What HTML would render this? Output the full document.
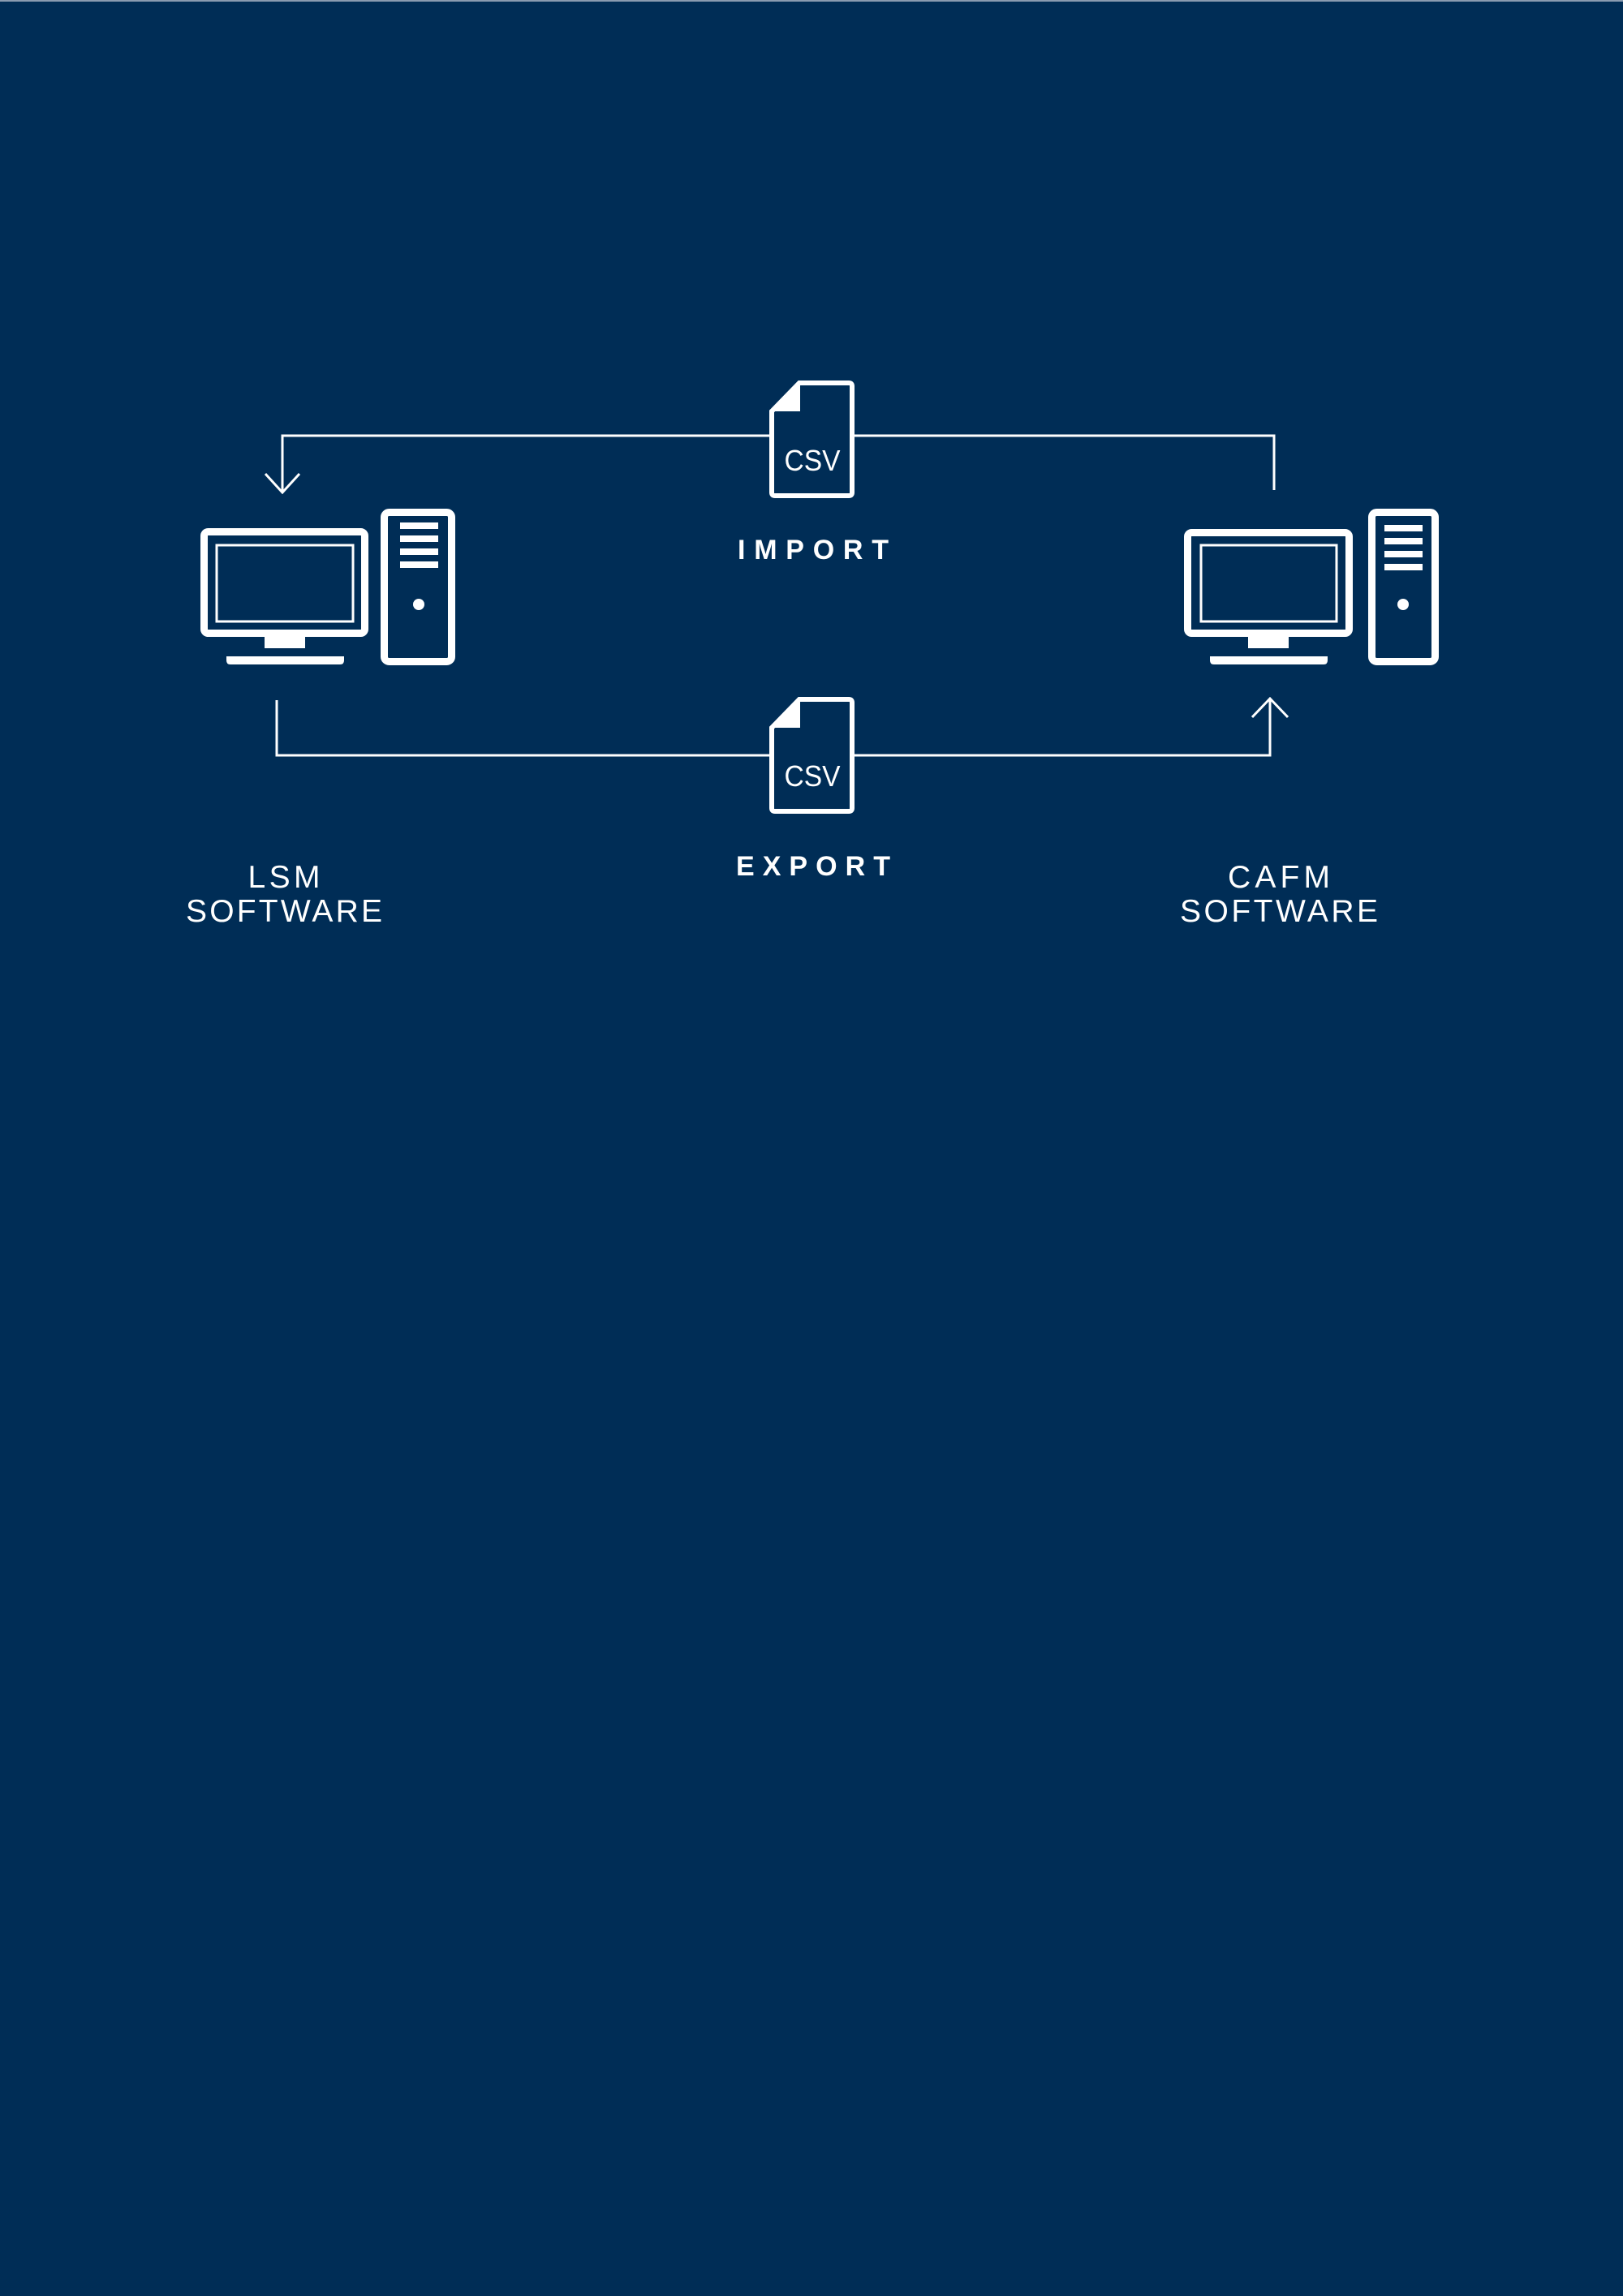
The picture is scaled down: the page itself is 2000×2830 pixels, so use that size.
<!DOCTYPE html>
<html><head><meta charset="utf-8"><style>html,body{margin:0;padding:0;background:#002d56}svg{display:block}</style></head>
<body>
<svg width="2000" height="2830" viewBox="0 0 2000 2830" xmlns="http://www.w3.org/2000/svg">
<rect width="2000" height="2830" fill="#002d56"/>
<rect width="2000" height="2" fill="#8a9bb0"/>
<g fill="none" stroke="#fff">
  <!-- connectors -->
  <polyline points="949,537 348,537 348,607" stroke-width="3"/>
  <polyline points="327,584 348,607 369,584" stroke-width="3"/>
  <polyline points="1052,537 1570,537 1570,604" stroke-width="3"/>
  <polyline points="341,863 341,931 949,931" stroke-width="3"/>
  <polyline points="1052,931 1565,931 1565,862" stroke-width="3"/>
  <polyline points="1543,884 1565,861 1587,884" stroke-width="3"/>
  <!-- left monitor -->
  <rect x="251.5" y="655.5" width="198" height="125" rx="5" stroke-width="9"/>
  <rect x="267" y="672" width="168" height="94" stroke-width="3"/>
  <rect x="473.5" y="631.5" width="83" height="184" rx="6" stroke-width="9"/>
  <!-- right monitor -->
  <rect x="1463.5" y="656.5" width="199" height="124" rx="5" stroke-width="9"/>
  <rect x="1480" y="672" width="167" height="94" stroke-width="3"/>
  <rect x="1690.5" y="631.5" width="78" height="184" rx="6" stroke-width="9"/>
  <!-- docs -->
  <path d="M951,507 L985,472 L1046,472 Q1050,472 1050,476 L1050,607 Q1050,611 1046,611 L955,611 Q951,611 951,607 Z" stroke-width="6"/>
  <path d="M951,897 L985,862 L1046,862 Q1050,862 1050,866 L1050,996 Q1050,1000 1046,1000 L955,1000 Q951,1000 951,996 Z" stroke-width="6"/>
</g>
<g fill="#fff">
  <rect x="326" y="785" width="50" height="14"/>
  <path d="M279,809 H424 V814 Q424,819 419,819 H284 Q279,819 279,814 Z"/>
  <rect x="493" y="644" width="47" height="8"/>
  <rect x="493" y="660" width="47" height="8"/>
  <rect x="493" y="676" width="47" height="8"/>
  <rect x="493" y="692" width="47" height="8"/>
  <circle cx="516" cy="745" r="7"/>
  <rect x="1538" y="785" width="50" height="14"/>
  <path d="M1491,809 H1636 V814 Q1636,819 1631,819 H1496 Q1491,819 1491,814 Z"/>
  <rect x="1706" y="647" width="47" height="8"/>
  <rect x="1706" y="663" width="47" height="8"/>
  <rect x="1706" y="679" width="47" height="8"/>
  <rect x="1706" y="695" width="47" height="8"/>
  <circle cx="1729" cy="745" r="7"/>
  <polygon points="949,507 986,470 986,507"/>
  <polygon points="949,897 986,860 986,897"/>
</g>
<g fill="#fff" font-family="Liberation Sans, sans-serif" text-anchor="middle">
  <text x="1001" y="580" font-size="36" textLength="69" lengthAdjust="spacingAndGlyphs">CSV</text>
  <text x="1001" y="969" font-size="36" textLength="69" lengthAdjust="spacingAndGlyphs">CSV</text>
  <text x="1002" y="689" font-size="34" font-weight="bold" textLength="186" lengthAdjust="spacing">IMPORT</text>
  <text x="1002" y="1079" font-size="34" font-weight="bold" textLength="190" lengthAdjust="spacing">EXPORT</text>
  <text x="350" y="1094" font-size="39" textLength="89" lengthAdjust="spacing">LSM</text>
  <text x="350" y="1136" font-size="39" textLength="242" lengthAdjust="spacing">SOFTWARE</text>
  <text x="1576" y="1094" font-size="39" textLength="126" lengthAdjust="spacing">CAFM</text>
  <text x="1576" y="1136" font-size="39" textLength="244" lengthAdjust="spacing">SOFTWARE</text>
</g>
</svg>
</body></html>
